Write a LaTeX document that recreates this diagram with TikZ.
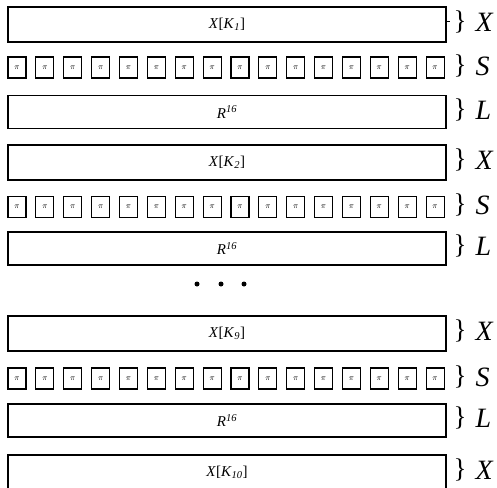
\documentclass[tikz,border=0pt]{standalone}
\usepackage{fontspec}
\setmainfont{Liberation Serif}
\begin{document}
\begin{tikzpicture}[x=1pt,y=-1pt,
  wide/.style={draw,line width=1.1pt,inner sep=0pt,minimum width=438pt,font=\fontsize{15}{17}\selectfont},
  xbox/.style={wide,minimum height=35pt},
  rbox/.style={wide,minimum height=33pt},
  pibox/.style={draw,line width=1.1pt,inner sep=0pt,minimum width=18pt,minimum height=21pt,font=\fontsize{8}{9}\selectfont},
  brace/.style={inner sep=0pt,font=\fontsize{27}{29}\selectfont},
  tag/.style={inner sep=0pt,font=\fontsize{28}{30}\selectfont\itshape},
  dot/.style={circle,fill=black,inner sep=0pt,minimum size=5pt}]
\useasboundingbox (0,0) rectangle (497,487);

% key-addition layers X
\node[xbox] (x1)  at (227,24.5)  {\textit{X}[\textit{K}\textsubscript{\textit{1}}]};
\node[xbox] (x2)  at (227,162.5) {\textit{X}[\textit{K}\textsubscript{\textit{2}}]};
\node[xbox] (x9)  at (227,333.5) {\textit{X}[\textit{K}\textsubscript{\textit{9}}]};
\node[xbox] (x10) at (227,472.5) {\textit{X}[\textit{K}\textsubscript{\textit{10}}]};

% linear layers L
\node[rbox] (r1) at (227,112)   {\textit{R}\textsuperscript{\textit{16}}};
\node[rbox] (r2) at (227,248.5) {\textit{R}\textsuperscript{\textit{16}}};
\node[rbox] (r9) at (227,420.5) {\textit{R}\textsuperscript{\textit{16}}};

% substitution layers S: sixteen parallel pi boxes
\foreach \row/\yy in {1/67.5, 2/207, 9/378.5}{
  \foreach \i in {0,...,15}{
    \node[pibox] (s\row-\i) at ({17+\i*27.87},\yy) {$\pi$};
  }
}

% ellipsis between rounds
\node[dot] (d1) at (197,284) {};
\node[dot] (d2) at (221,284) {};
\node[dot] (d3) at (244,284) {};

% short tick on the first layer
\coordinate (t1) at (450,21);
\draw[line width=0.8pt] (x1.east |- t1) -- (t1);

% braces with layer names
\foreach \n/\yy/\lab in {bx1/22/X, bs1/66/S, bl1/110/L, bx2/160/X, bs2/205/S, bl2/246/L,
                         bx9/331/X, bs9/377/S, bl9/418/L, bx10/470/X}{
  \node[brace] (\n) at (460,\yy) {\}};
  \node[tag,anchor=west] (\n-t) at (475.5,\yy) {\lab};
}
\end{tikzpicture}
\end{document}
